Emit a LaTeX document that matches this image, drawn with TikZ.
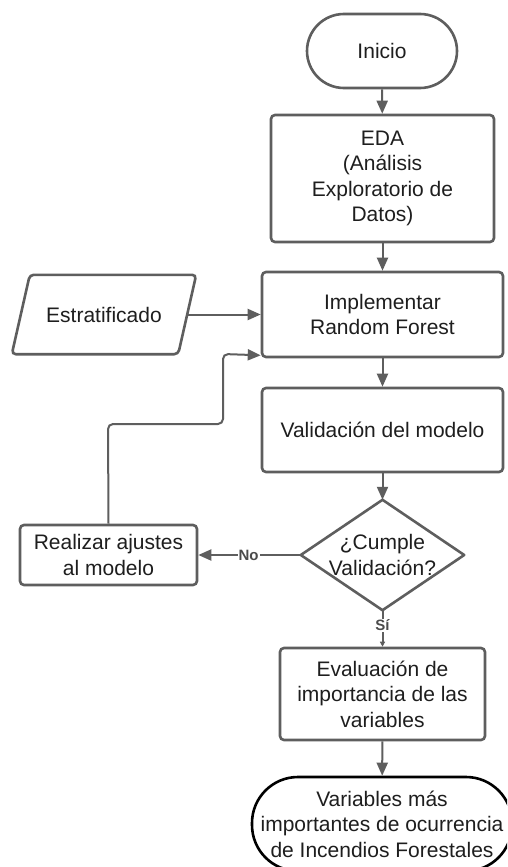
\documentclass[tikz,border=0pt]{standalone}
\usepackage{fontspec}
\setmainfont{Liberation Sans}
\usetikzlibrary{arrows.meta,calc}
\definecolor{lc}{HTML}{5E5E5E}
\definecolor{tc}{HTML}{1E1E1E}
\tikzset{
  box/.style={draw=lc, line width=2.6pt, rounded corners=4pt, align=center,
    text=tc, font=\fontsize{21}{25.5}\selectfont, inner sep=2pt},
  term/.style={box, rounded corners=37pt},
  plain/.style={align=center, text=tc, font=\fontsize{21}{25.5}\selectfont, inner sep=0pt},
  conn/.style={draw=lc, line width=2pt, -{Triangle[length=13pt,width=11pt]}},
  lab/.style={fill=white, inner sep=1pt, text=lc!80!black, font=\bfseries\fontsize{15}{16}\selectfont}
}
\begin{document}
\begin{tikzpicture}[x=1pt,y=-1pt]
\clip (0,0) rectangle (507,867);
\fill[white] (0,0) rectangle (507,867);

\node[term, minimum width=150pt, minimum height=74pt] (ini) at (382,51) {Inicio};
\node[box, minimum width=223pt, minimum height=127pt] (eda) at (382.5,178.5)
  {EDA\\(Análisis\\Exploratorio de\\Datos)};
\node[box, minimum width=241pt, minimum height=85pt] (impl) at (382.5,314.5)
  {Implementar\\Random Forest};
\node[plain, minimum width=166pt, minimum height=79pt] (estr) at (104,314.5) {Estratificado};
\draw[draw=lc, line width=2.6pt, rounded corners=4pt]
  ([xshift=9pt]estr.north west) -- ([xshift=9pt]estr.north east)
  -- ([xshift=-9pt]estr.south east) -- ([xshift=-9pt]estr.south west) -- cycle;
\node[box, minimum width=241pt, minimum height=84pt] (val) at (382.5,430)
  {Validación del modelo};
\node[plain, minimum width=163pt, minimum height=110pt] (dec) at (382.5,555)
  {¿Cumple\\Validación?};
\draw[draw=lc, line width=2.6pt, line join=round]
  (dec.north) -- (dec.east) -- (dec.south) -- (dec.west) -- cycle;
\node[box, minimum width=177pt, minimum height=60pt] (aj) at (108.5,555)
  {Realizar ajustes\\al modelo};
\node[box, minimum width=205pt, minimum height=92pt] (ev) at (382.5,694)
  {Evaluación de\\importancia de las\\variables};
\node[box, draw=black, rounded corners=46pt, minimum width=260pt, minimum height=94pt] (fin) at (382,824)
  {Variables más\\importantes de ocurrencia\\de Incendios Forestales};

\draw[conn] (ini) -- (eda);
\draw[conn] (eda) -- (impl);
\draw[conn] (estr.east) -- (impl.west |- estr.east);
\draw[conn] (impl) -- (val);
\draw[conn] (val) -- (dec.north);
\draw[conn] (dec.west) -- node[lab, pos=0.51] {No} (aj.east);
\draw[conn, -{Triangle[length=5pt,width=5pt]}] (dec.south) -- node[lab, pos=0.42] {Sí} (ev.north);
\draw[conn] (ev) -- (fin);
\draw[conn, rounded corners=5pt] (aj.north) -- (108,424) -- (223,424) -- (223,354)
  -- ([yshift=3pt]impl.south west);
\end{tikzpicture}
\end{document}
